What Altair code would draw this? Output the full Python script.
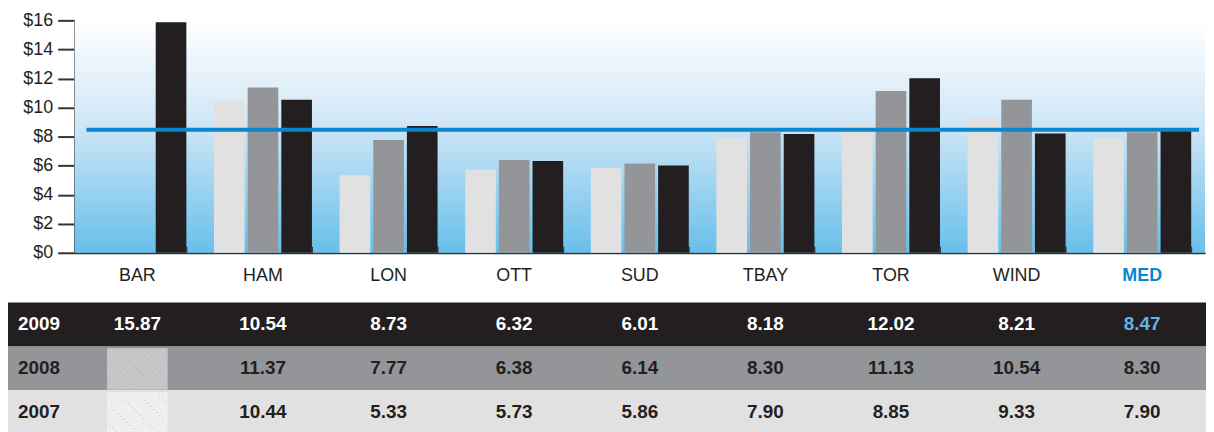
import math
import altair as alt
import pandas as pd

cats = ["BAR", "HAM", "LON", "OTT", "SUD", "TBAY", "TOR", "WIND", "MED"]
years = ["2007", "2008", "2009"]
v2009 = [15.87, 10.54, 8.73, 6.32, 6.01, 8.18, 12.02, 8.21, 8.47]
v2008 = [None, 11.37, 7.77, 6.38, 6.14, 8.30, 11.13, 10.54, 8.30]
v2007 = [None, 10.44, 5.33, 5.73, 5.86, 7.90, 8.85, 9.33, 7.90]
median = 8.47
y_ticks = [0, 2, 4, 6, 8, 10, 12, 14, 16]

BLACK = "#231f20"
GRAY = "#939598"
LIGHT = "#e1e1e2"
BLUE = "#0a86cf"
FONT = "Liberation Sans"

W = 1138
H = 234
TH = 132

rows = []
for y, vals in zip(years, [v2007, v2008, v2009]):
    for c, v in zip(cats, vals):
        rows.append({"cat": c, "year": y, "value": v})
df = pd.DataFrame(rows)
df["label"] = df["value"].map(lambda v: "" if pd.isna(v) else f"{v:.2f}")
df_missing = df[df["value"].isna()]
df_cats = pd.DataFrame({"cat": cats})
df_years = pd.DataFrame({"year": years})

xscale = alt.Scale(domain=cats, paddingInner=0.22, paddingOuter=0.11)
yscale_q = alt.Scale(domain=[0, 16], nice=False)
color_scale = alt.Scale(domain=years, range=[LIGHT, GRAY, BLACK])
row_order = ["2009", "2008", "2007"]

yaxis = alt.Axis(title=None, values=y_ticks, grid=False, labelOverlap=False,
                 labelFlush=False, tickCount=9,
                 labelExpr="'$' + datum.value", labelFontSize=18, labelFont=FONT,
                 labelColor=BLACK, labelPadding=5, tickSize=17, tickWidth=2,
                 tickColor="#333333", domainColor="#333333", domainWidth=2)

# ---------- bar chart ----------
bg = alt.Chart(pd.DataFrame({"a": [0]})).mark_rect(
    color=alt.LinearGradient(
        gradient="linear", x1=0, x2=0, y1=0, y2=1,
        stops=[alt.GradientStop(color="#ffffff", offset=0.0),
               alt.GradientStop(color="#fbfdff", offset=0.04),
               alt.GradientStop(color="#cfe6f6", offset=0.45),
               alt.GradientStop(color="#68bfeb", offset=1.0)]
    )
).encode(x=alt.value(0), x2=alt.value(W), y=alt.value(0), y2=alt.value(H))

bars = alt.Chart(df).mark_bar().encode(
    x=alt.X("cat:N", scale=xscale, sort=cats,
            axis=alt.Axis(title=None, ticks=False, labelAngle=0, labelPadding=14,
                          labelFontSize=18, labelFont=FONT,
                          labelColor=alt.expr(f"datum.value == 'MED' ? '{BLUE}' : '{BLACK}'"),
                          labelFontWeight=alt.expr("datum.value == 'MED' ? 'bold' : 'normal'"),
                          domainColor="#333333", domainWidth=2)),
    xOffset=alt.XOffset("year:N", sort=years,
                        scale=alt.Scale(domain=years, paddingInner=0.09, paddingOuter=0)),
    y=alt.Y("value:Q", scale=yscale_q, axis=yaxis),
    color=alt.Color("year:N", scale=color_scale, legend=None),
)

ticks = alt.Chart(df_cats).mark_rule(color="#333333", strokeWidth=2).encode(
    x=alt.X("cat:N", scale=xscale, sort=cats, bandPosition=1),
    y=alt.value(H - 6), y2=alt.value(H),
)

med = alt.Chart(pd.DataFrame({"value": [median]})).mark_rule(
    color=BLUE, strokeWidth=4
).encode(y=alt.Y("value:Q", scale=yscale_q, axis=yaxis), x=alt.value(12), x2=alt.value(W - 6))

top = alt.layer(bg, bars, ticks, med).properties(width=W, height=H)

# ---------- table ----------
yscale = alt.Scale(domain=row_order, paddingInner=0, paddingOuter=0)
row_bg = alt.Chart(df_years).mark_rect().encode(
    y=alt.Y("year:N", scale=yscale, sort=row_order, axis=None),
    x=alt.value(-67), x2=alt.value(W + 1),
    color=alt.Color("year:N", scale=color_scale, legend=None),
)

CELL_W = 61
CELL_H = 41
hatch = alt.Chart(df_missing).mark_bar(
    width=CELL_W, height={"band": 0.95}, yOffset=1,
    color=alt.expr("datum.year == '2008' ? '#c5c6c8' : '#eeeff1'")
).encode(
    x=alt.X("cat:N", scale=xscale, sort=cats, axis=None),
    y=alt.Y("year:N", scale=yscale, sort=row_order, axis=None),
)

# decorative 45-degree dotted hatch inside the "no data" cells
hatch_layers = []
hw, hh = CELL_W / 2, CELL_H / 2
for c in (-40, -20, 0, 20, 40):
    y0 = max(-hh, -hw - c)
    y1 = min(hh, hw - c)
    if y1 - y0 < 3:
        continue
    cy = (y0 + y1) / 2
    cx = cy + c
    length = (y1 - y0) * math.sqrt(2)
    n = max(2, int(length / 5))
    dots = " ".join(["·"] * n)
    hatch_layers.append(
        alt.Chart(df_missing).mark_text(
            text=dots, angle=45, fontSize=7, font=FONT, align="center", baseline="middle",
            xOffset=cx, yOffset=cy + 1, color="#858587"
        ).encode(
            x=alt.X("cat:N", scale=xscale, sort=cats, axis=None),
            y=alt.Y("year:N", scale=yscale, sort=row_order, axis=None),
        )
    )

txt_color = alt.expr(
    f"datum.year == '2009' ? (datum.cat == 'MED' ? '#5db7e6' : '#ffffff') : '{BLACK}'"
)
vals = alt.Chart(df).mark_text(fontSize=19, fontWeight="bold", font=FONT,
                               color=txt_color).encode(
    x=alt.X("cat:N", scale=xscale, sort=cats, axis=None),
    y=alt.Y("year:N", scale=yscale, sort=row_order, axis=None),
    text="label:N",
)

year_txt = alt.Chart(df_years).mark_text(
    fontSize=19, fontWeight="bold", font=FONT, align="left",
    color=alt.expr(f"datum.year == '2009' ? '#ffffff' : '{BLACK}'")
).encode(
    x=alt.value(-57),
    y=alt.Y("year:N", scale=yscale, sort=row_order, axis=None),
    text="year:N",
)

table = alt.layer(row_bg, hatch, *hatch_layers, vals, year_txt).properties(width=W, height=TH)

chart = alt.vconcat(top, table, spacing=50, bounds="flush").properties(
    padding={"left": 0, "top": 2, "right": 0, "bottom": 0}
).configure_view(stroke=None).resolve_scale(color="independent")

chart.save("out.html", embed_options={"renderer": "svg", "actions": False})
